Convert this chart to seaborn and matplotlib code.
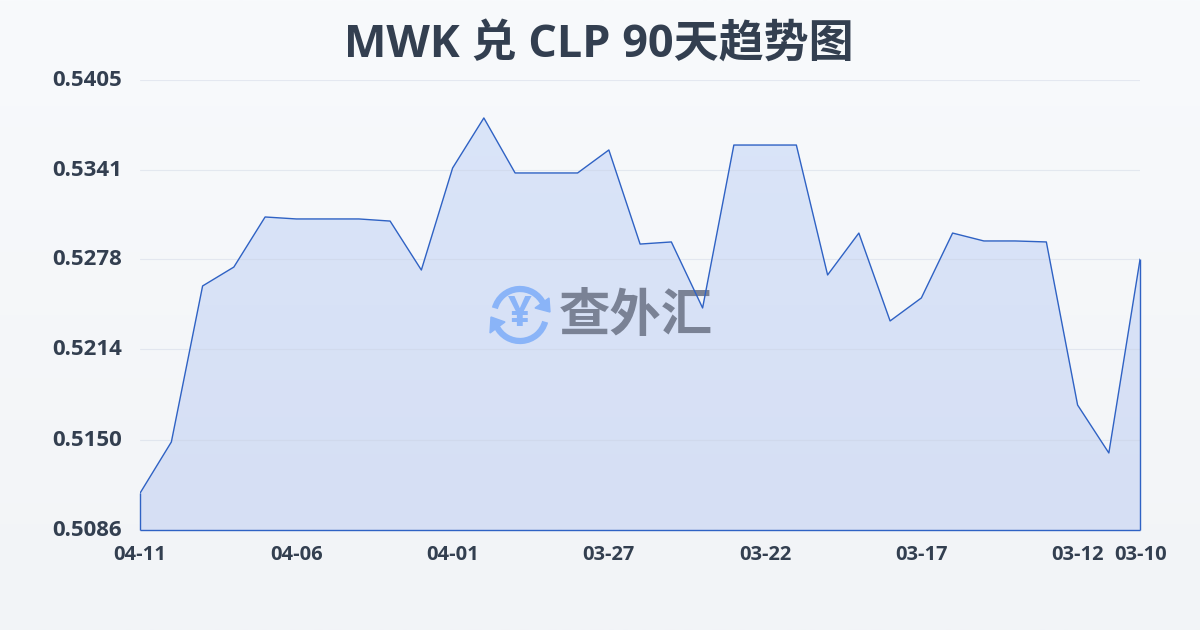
import numpy as np
import pandas as pd
import matplotlib
matplotlib.use("Agg")
import matplotlib.pyplot as plt
from matplotlib.colors import LinearSegmentedColormap
from matplotlib.patches import Arc, Polygon
from matplotlib.transforms import ScaledTranslation
import seaborn as sns

# daily rate, newest on the left
rates = [0.51122, 0.51484, 0.52590, 0.52724, 0.53079, 0.53065, 0.53065, 0.53065,
         0.53050, 0.52703, 0.53426, 0.53781, 0.53391, 0.53391, 0.53391, 0.53554,
         0.52887, 0.52902, 0.52434, 0.53589, 0.53589, 0.53589, 0.52668, 0.52965,
         0.52342, 0.52505, 0.52965, 0.52909, 0.52909, 0.52902, 0.51746, 0.51406,
         0.52781]
x_tick_idx = [0, 5, 10, 15, 20, 25, 30, 32]
x_tick_labels = ["04-11", "04-06", "04-01", "03-27", "03-22", "03-17", "03-12", "03-10"]
y_ticks = [0.5086, 0.5150, 0.5214, 0.5278, 0.5341, 0.5405]
y_tick_labels = ["0.5086", "0.5150", "0.5214", "0.5278", "0.5341", "0.5405"]

df = pd.DataFrame({"idx": range(len(rates)), "rate": rates})

sns.set_style("white")
plt.rcParams["font.family"] = ["Open Sans", "Noto Sans CJK SC", "DejaVu Sans"]

TEXT = "#333f50"
LINE = "#2f62c4"
GRID = "#e3e6eb"
AX_RECT = [140.1 / 1200, 100 / 630, 1000 / 1200, 450 / 630]

fig = plt.figure(figsize=(12, 6.3), dpi=100)

# page background
bg = fig.add_axes([0, 0, 1, 1], zorder=0)
bg_cmap = LinearSegmentedColormap.from_list("bg", ["#f8fafc", "#f2f4f7"])
bg.imshow(np.linspace(0, 1, 256).reshape(-1, 1), aspect="auto", cmap=bg_cmap)
bg.axis("off")

# area with a soft vertical fade
ax = fig.add_axes(AX_RECT, zorder=1)
ax.patch.set_alpha(0)
area_cmap = LinearSegmentedColormap.from_list("area", ["#dae5f9", "#d6dff4"])
img = ax.imshow(np.linspace(0, 1, 256).reshape(-1, 1), aspect="auto", cmap=area_cmap,
                extent=[0, len(rates) - 1, y_ticks[0], y_ticks[-1]], zorder=1)
poly = ax.fill_between(df["idx"], df["rate"], y_ticks[0], color="none", zorder=1)
img.set_clip_path(poly.get_paths()[0], transform=ax.transData)
ax.set_xlim(0, len(rates) - 1)
ax.set_ylim(y_ticks[0], y_ticks[-1])
ax.axis("off")

# watermark
px = fig.add_axes([0, 0, 1, 1], zorder=2)
px.patch.set_alpha(0)
px.set_xlim(0, 1200)
px.set_ylim(630, 0)
px.axis("off")
LOGO = "#8ab4f8"
px.add_patch(Arc((520, 315), 52, 52, theta1=195, theta2=335, color=LOGO, lw=4.5))
px.add_patch(Arc((520, 315), 52, 52, theta1=15, theta2=155, color=LOGO, lw=4.5))
px.add_patch(Polygon([[549, 298], [550, 312], [535, 308]], color=LOGO))
px.add_patch(Polygon([[491, 317], [490, 333], [505, 322]], color=LOGO))
px.text(520, 315, "¥", color=LOGO, fontsize=30, fontweight="bold", ha="center", va="center",
        family=["Open Sans", "DejaVu Sans"])
px.text(635.5, 316, "查外汇", color="#7a8295", fontsize=37, fontweight="bold", ha="center", va="center",
        family=["Noto Sans CJK SC", "DejaVu Sans"])

# line, grid and ticks on top
ax2 = fig.add_axes(AX_RECT, zorder=3)
ax2.patch.set_alpha(0)
sns.lineplot(data=df, x="idx", y="rate", ax=ax2, color=LINE, linewidth=1, zorder=3)
ax2.vlines([df["idx"].iloc[0], df["idx"].iloc[-1]], y_ticks[0], [rates[0], rates[-1]],
           color=LINE, lw=1, zorder=3, clip_on=False)
ax2.hlines(y_ticks[0], df["idx"].iloc[0], df["idx"].iloc[-1], color=LINE, lw=1, zorder=3, clip_on=False)

ax2.set_xlim(0, len(rates) - 1)
ax2.set_ylim(y_ticks[0], y_ticks[-1])
ax2.set_yticks(y_ticks)
ax2.set_yticklabels(y_tick_labels)
ax2.set_xticks(x_tick_idx)
ax2.set_xticklabels(x_tick_labels)
ax2.set_xlabel("")
ax2.set_ylabel("")
ax2.grid(axis="y", color="#c8d0e0", alpha=0.4, lw=0.8, zorder=2)
for s in ax2.spines.values():
    s.set_visible(False)
ax2.tick_params(axis="y", length=0, pad=13, labelsize=16, labelcolor=TEXT)
ax2.tick_params(axis="x", length=10, width=1, color=GRID, pad=1, labelsize=14.5, labelcolor=TEXT)
for lab in ax2.get_xticklabels() + ax2.get_yticklabels():
    lab.set_fontweight("bold")
for lab in ax2.get_yticklabels():
    lab.set_transform(lab.get_transform() + ScaledTranslation(0, 1.5 / 72, fig.dpi_scale_trans))

fig.text(598.5 / 1200, 1 - 45 / 630, "MWK 兑 CLP 90天趋势图", color=TEXT, fontsize=32.4, fontweight="bold",
         ha="center", va="center")

fig.savefig("out.png", dpi=100)
